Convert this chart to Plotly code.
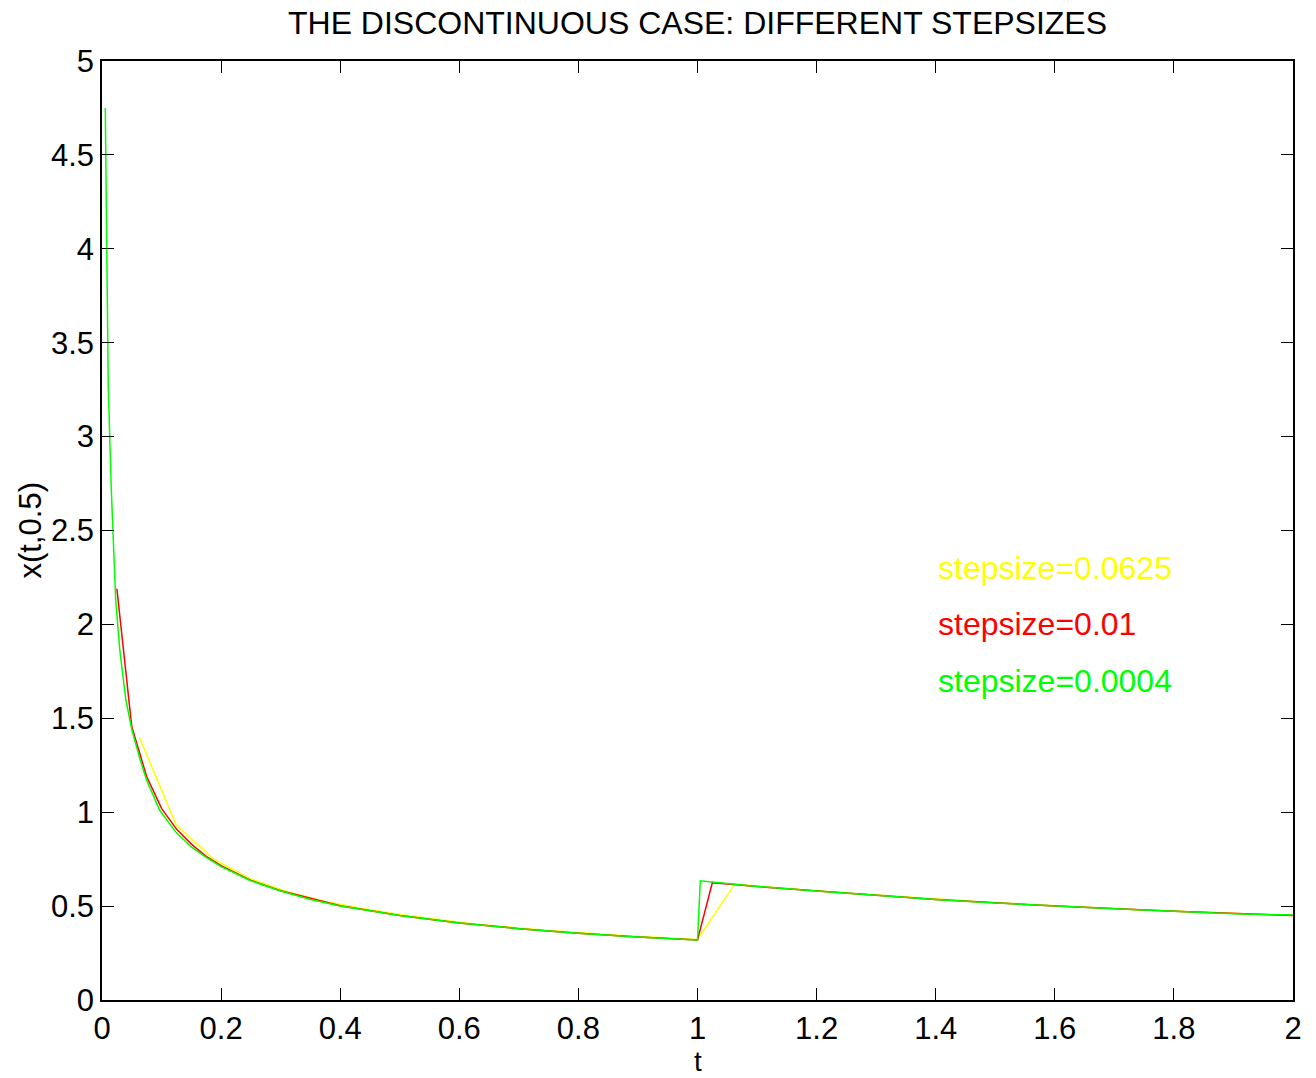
import plotly.graph_objects as go

# stepsize = 0.0625 (yellow)
t_yellow = [0.0625, 0.125, 0.1875, 0.25, 0.3125, 0.375, 0.4375, 0.5, 0.625, 0.75, 0.875, 1.0,
            1.0625, 1.125, 1.25, 1.5, 1.75, 2.0]
x_yellow = [1.40, 0.93, 0.75, 0.645, 0.575, 0.525, 0.487, 0.455, 0.405, 0.37, 0.343, 0.322,
            0.618, 0.60, 0.57, 0.518, 0.479, 0.45]

# stepsize = 0.01 (red)
t_red = [0.025, 0.05, 0.075, 0.1, 0.125, 0.15, 0.175, 0.2, 0.25, 0.3, 0.4, 0.5, 0.6, 0.7, 0.8, 0.9, 1.0,
         1.025, 1.1, 1.2, 1.4, 1.6, 1.8, 2.0]
x_red = [2.19, 1.455, 1.19, 1.02, 0.91, 0.83, 0.765, 0.715, 0.637, 0.582, 0.502, 0.45, 0.41, 0.38, 0.355, 0.335, 0.32,
         0.625, 0.604, 0.58, 0.535, 0.5, 0.472, 0.45]

# stepsize = 0.0004 (green)
t_green = [0.0055, 0.0079, 0.0105, 0.0156, 0.023, 0.03, 0.04, 0.05, 0.064, 0.075, 0.097, 0.125, 0.15, 0.175,
           0.2, 0.25, 0.3, 0.35, 0.4, 0.5, 0.6, 0.7, 0.8, 0.9, 1.0,
           1.0047, 1.1, 1.2, 1.3, 1.4, 1.5, 1.6, 1.7, 1.8, 1.9, 2.0]
x_green = [4.75, 4.0, 3.27, 2.72, 2.13, 1.86, 1.60, 1.44, 1.28, 1.17, 1.01, 0.89, 0.815, 0.76,
           0.71, 0.635, 0.58, 0.535, 0.5, 0.45, 0.41, 0.38, 0.355, 0.335, 0.32,
           0.635, 0.605, 0.58, 0.556, 0.535, 0.517, 0.5, 0.486, 0.472, 0.459, 0.452]

x_ticks = [0, 0.2, 0.4, 0.6, 0.8, 1, 1.2, 1.4, 1.6, 1.8, 2]
x_tick_labels = ["0", "0.2", "0.4", "0.6", "0.8", "1", "1.2", "1.4", "1.6", "1.8", "2"]
y_ticks = [0, 0.5, 1, 1.5, 2, 2.5, 3, 3.5, 4, 4.5, 5]
y_tick_labels = ["0", "0.5", "1", "1.5", "2", "2.5", "3", "3.5", "4", "4.5", "5"]

legend_labels = ["stepsize=0.0625", "stepsize=0.01", "stepsize=0.0004"]
legend_y = [2.3, 2.0, 1.7]
legend_x = 1.4

YELLOW, RED, GREEN = "#ffff00", "#ff0000", "#00ff00"
FONT = "Liberation Sans, Arial, sans-serif"
FS = 31

fig = go.Figure()
fig.add_trace(go.Scatter(x=t_yellow, y=x_yellow, mode="lines", line=dict(color=YELLOW, width=1.5)))
fig.add_trace(go.Scatter(x=t_red, y=x_red, mode="lines", line=dict(color=RED, width=1.5)))
fig.add_trace(go.Scatter(x=t_green, y=x_green, mode="lines", line=dict(color=GREEN, width=1.5)))

for lab, yy, col in zip(legend_labels, legend_y, [YELLOW, RED, GREEN]):
    fig.add_annotation(x=legend_x, y=yy, text=lab, showarrow=False, xanchor="left", yanchor="middle",
                       font=dict(family=FONT, size=32, color=col))

# axis labels
fig.add_annotation(x=1.0, xref="x", y=-61 / 939, yref="paper", text="t", showarrow=False,
                   xanchor="center", yanchor="middle", borderpad=0,
                   font=dict(family=FONT, size=28, color="black"))
fig.add_annotation(x=-72 / 1191, xref="paper", y=0.5, yref="paper", text="x(t,0.5)", showarrow=False,
                   textangle=-90, xanchor="center", yanchor="middle",
                   font=dict(family=FONT, size=FS, color="black"))

axis_common = dict(showline=True, linecolor="black", linewidth=1.5, mirror="ticks", ticks="inside",
                   ticklen=12, tickwidth=1, tickcolor="black", showgrid=False, zeroline=False,
                   automargin=False, tickfont=dict(family=FONT, size=FS, color="black"))

fig.update_layout(
    width=1316, height=1078,
    margin=dict(l=102, r=23, t=61, b=78),
    paper_bgcolor="white", plot_bgcolor="white",
    showlegend=False,
    title=dict(text="THE DISCONTINUOUS CASE: DIFFERENT STEPSIZES", x=0.5 * (102 + 1293) / 1316, xanchor="center",
               y=1 - 23 / 1078, yanchor="middle", font=dict(family=FONT, size=32, color="black")),
    xaxis=dict(range=[0, 2], tickvals=x_ticks, ticktext=x_tick_labels, ticklabelstandoff=0, **axis_common),
    yaxis=dict(range=[0, 5], tickvals=y_ticks, ticktext=y_tick_labels, ticklabelstandoff=0, **axis_common),
)

fig.write_html("out.html")
